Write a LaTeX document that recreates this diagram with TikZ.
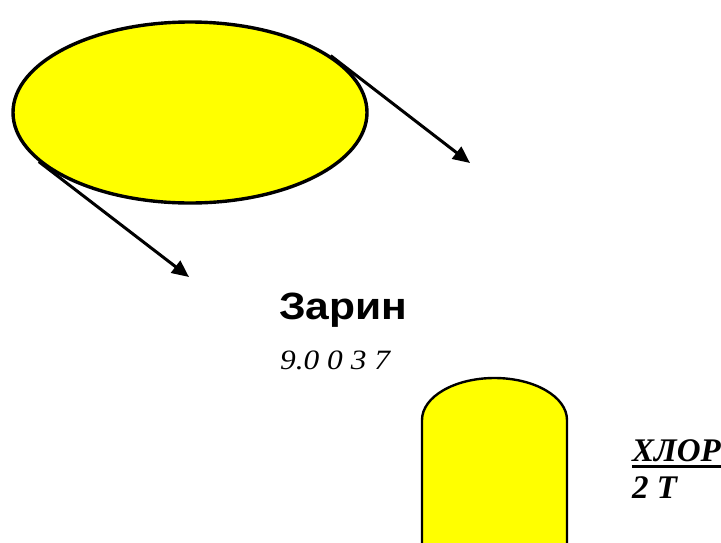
\documentclass[tikz,border=0pt]{standalone}
\usepackage{fontspec}
\setmainfont{Liberation Serif}
\newfontfamily\arialfont{Liberation Sans}
\usetikzlibrary{shapes.geometric,arrows.meta}
\definecolor{yel}{RGB}{255,255,0}
\tikzset{
  arr/.style={line width=3pt,-{Triangle[length=17pt,width=15pt]}},
  outl/.style={draw=black,fill=yel,line width=3.4pt},
  lbl/.style={inner sep=0pt,anchor=base west}
}
\begin{document}
\begin{tikzpicture}[x=1pt,y=-1pt]
\useasboundingbox (0,0) rectangle (721,542);
\node[ellipse,outl,minimum width=354pt,minimum height=181pt,inner sep=0pt] (ell) at (190,112.5) {};
\coordinate (t1) at (470,163);
\coordinate (t2) at (189,277);
\draw[arr] (ell.22) -- (t1);
\draw[arr] (ell.198) -- (t2);
\path[outl,line width=2.4pt] (422,560) -- (422,420) arc[start angle=180,end angle=360,x radius=72.5,y radius=42] -- (567,560) -- cycle;
\node[lbl,font=\arialfont\bfseries\fontsize{38}{40}\selectfont] (zar) at (279,319) {\scalebox{1.12}[1]{Зарин}};
\node[lbl,font=\itshape\fontsize{28}{30}\selectfont] (num) at (280,369) {\scalebox{1.12}[1]{9.0 0 3 7}};
\node[lbl,font=\bfseries\itshape\fontsize{33}{34}\selectfont] (hl) at (632,461) {ХЛОР};
\draw[line width=3pt] ([yshift=-5pt]hl.base west) -- ([yshift=-5pt]hl.base east);
\node[lbl,font=\bfseries\itshape\fontsize{33}{34}\selectfont] (two) at (632,498) {2 Т};
\end{tikzpicture}
\end{document}
